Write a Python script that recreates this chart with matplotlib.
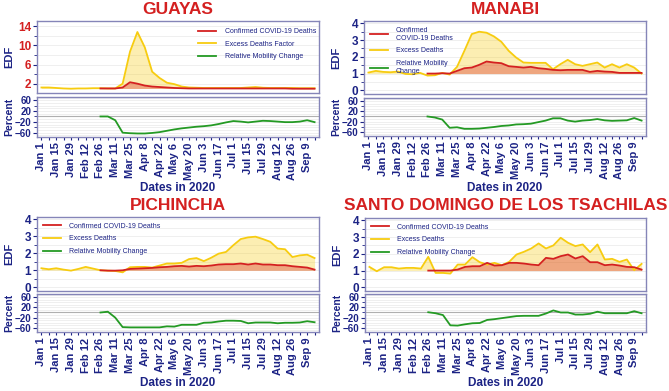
import numpy as np
import matplotlib
matplotlib.use("Agg")
import matplotlib.pyplot as plt
from matplotlib.ticker import MultipleLocator

plt.rcParams["font.family"] = ["Liberation Sans", "DejaVu Sans"]

# weekly points, Jan 1 .. Sep 16 2020
tick_labels = ["Jan 1", "Jan 15", "Jan 29", "Feb 12", "Feb 26", "Mar 11", "Mar 25",
               "Apr 8", "Apr 22", "May 6", "May 20", "Jun 3", "Jun 17", "Jul 1",
               "Jul 15", "Jul 29", "Aug 12", "Aug 26", "Sep 9"]
weeks = np.arange(38)
start = 8  # confirmed deaths and mobility begin Feb 26

guayas_excess = [1.2, 1.2, 1.1, 1.0, 0.95, 1.0, 1.0, 1.05, 1.05, 1.0, 1.0, 2.0, 8.7,
                 12.8, 9.6, 4.5, 3.2, 2.2, 1.9, 1.4, 1.2, 1.15, 1.1, 1.1, 1.1, 1.1,
                 1.1, 1.1, 1.2, 1.3, 1.15, 1.1, 1.1, 1.1, 1.1, 1.05, 1.05, 1.05]
guayas_confirmed = [1.0, 1.0, 1.0, 1.2, 2.3, 2.0, 1.6, 1.4, 1.3, 1.2, 1.1, 1.05, 1.0,
                    1.0, 1.0, 1.0, 1.0, 1.0, 1.0, 1.0, 1.0, 1.0, 1.0, 1.0, 1.0, 1.0,
                    0.95, 0.95, 0.95, 0.95]
guayas_mobility = [0, 0, -14, -60, -62, -63, -63, -61, -58, -53, -48, -44, -41, -38,
                   -36, -33, -28, -22, -17, -19, -22, -19, -16, -17, -19, -21, -21,
                   -19, -14, -21]

manabi_excess = [1.06, 1.16, 1.1, 1.08, 1.12, 0.98, 0.96, 1.04, 0.88, 0.9, 1.04, 0.94,
                 1.4, 2.36, 3.36, 3.5, 3.44, 3.22, 2.9, 2.36, 1.96, 1.66, 1.64, 1.64,
                 1.64, 1.26, 1.56, 1.82, 1.56, 1.46, 1.56, 1.66, 1.36, 1.56, 1.36,
                 1.56, 1.36, 1.0]
manabi_confirmed = [1.0, 1.0, 1.02, 1.0, 1.16, 1.32, 1.36, 1.52, 1.72, 1.66, 1.62, 1.44,
                    1.4, 1.36, 1.4, 1.32, 1.28, 1.22, 1.2, 1.22, 1.22, 1.22, 1.1, 1.16,
                    1.12, 1.1, 1.04, 1.04, 1.04, 1.04]
manabi_mobility = [0, -4, -12, -44, -42, -48, -48, -47, -44, -41, -37, -35, -31, -30,
                   -28, -22, -16, -7, -7, -16, -20, -16, -14, -10, -15, -17, -16, -15,
                   -6, -16]

pichincha_excess = [1.12, 1.06, 1.12, 1.04, 0.98, 1.08, 1.2, 1.1, 1.0, 0.98, 0.96, 0.88,
                    1.18, 1.2, 1.2, 1.16, 1.28, 1.4, 1.4, 1.44, 1.66, 1.72, 1.54, 1.74,
                    1.98, 2.08, 2.48, 2.84, 2.94, 2.98, 2.84, 2.68, 2.28, 2.24, 1.78,
                    1.88, 1.92, 1.72]
pichincha_confirmed = [1.0, 0.98, 0.98, 1.0, 1.08, 1.1, 1.12, 1.14, 1.18, 1.2, 1.24,
                       1.26, 1.22, 1.26, 1.24, 1.28, 1.34, 1.36, 1.36, 1.4, 1.34, 1.4,
                       1.34, 1.34, 1.3, 1.3, 1.24, 1.2, 1.16, 1.04]
pichincha_mobility = [0, 3, -20, -57, -58, -58, -58, -58, -58, -54, -55, -48, -48, -48,
                      -40, -39, -35, -32, -32, -33, -42, -39, -39, -39, -42, -40, -40,
                      -39, -34, -38]

sd_excess = [1.22, 0.96, 1.2, 1.2, 1.12, 1.16, 1.16, 1.12, 1.82, 0.86, 0.86, 0.82,
             1.36, 1.36, 1.8, 1.5, 1.36, 1.46, 1.32, 1.52, 1.96, 2.12, 2.32, 2.62,
             2.32, 2.5, 2.96, 2.66, 2.46, 2.56, 2.1, 2.56, 1.66, 1.7, 1.52, 1.66,
             1.02, 1.4]
sd_confirmed = [1.0, 1.0, 1.0, 1.0, 1.06, 1.22, 1.26, 1.26, 1.46, 1.3, 1.32, 1.46, 1.46,
                1.42, 1.36, 1.32, 1.76, 1.7, 1.86, 1.96, 1.72, 1.86, 1.5, 1.5, 1.32,
                1.36, 1.3, 1.22, 1.2, 1.06]
sd_mobility = [1, -3, -10, -50, -51, -46, -42, -41, -29, -26, -22, -18, -14, -13, -13,
               -13, -4, 8, 0, 0, -8, -8, -5, 3, -3, -3, -3, -3, 5, -3]

RED = "#d42020"
GOLD = "#f7cc10"
GREEN = "#249a24"
NAVY = "#1c2385"
EDGE = "#8585b8"

W, H = 669, 391
fig = plt.figure(figsize=(W / 100, H / 100), dpi=100)


def rect(l, t, r, b):
    return [l / W, 1 - b / H, (r - l) / W, (b - t) / H]


def style_box(ax):
    for s in ax.spines.values():
        s.set_color(EDGE)
        s.set_linewidth(1.0)
    ax.tick_params(colors=NAVY, length=3, width=0.8, pad=1.2)
    ax.tick_params(which="minor", colors=NAVY, length=2, width=0.6)
    for lab in ax.get_yticklabels():
        lab.set_fontweight("bold")


panels = [
    dict(title="GUAYAS", box=(37, 21, 319, 93), low=(37, 97, 319, 137),
         excess=guayas_excess, conf=guayas_confirmed, mob=guayas_mobility,
         ylim=(0.05, 15.1), minor=2, yticks=[2, 6, 10, 14], tickcol=RED,
         labels=["Confirmed COVID-19 Deaths", "Excess Deaths Factor",
                 "Relative Mobility Change"], loc="upper right",
         anchor=(0.99, 0.9), title_y=10, xlab_y=188),
    dict(title="MANABI", box=(364, 21, 646, 94), low=(364, 98, 646, 136),
         excess=manabi_excess, conf=manabi_confirmed, mob=manabi_mobility,
         ylim=(-0.22, 4.14), minor=0.5, yticks=[0, 1, 2, 3, 4], tickcol=NAVY,
         labels=["Confirmed\nCOVID-19 Deaths", "Excess Deaths",
                 "Relative Mobility\nChange"], loc="upper left",
         anchor=(0.02, 0.92), title_y=10, xlab_y=188),
    dict(title="PICHINCHA", box=(37, 217, 319, 291), low=(37, 294, 319, 332),
         excess=pichincha_excess, conf=pichincha_confirmed, mob=pichincha_mobility,
         ylim=(-0.22, 4.14), minor=0.5, yticks=[0, 1, 2, 3, 4], tickcol=NAVY,
         labels=["Confirmed COVID-19 Deaths", "Excess Deaths",
                 "Relative Mobility Change"], loc="upper left",
         anchor=(0.02, 0.92), title_y=206, xlab_y=383),
    dict(title="SANTO DOMINGO DE LOS TSACHILAS", box=(365, 218, 646, 291),
         low=(365, 294, 646, 332),
         excess=sd_excess, conf=sd_confirmed, mob=sd_mobility,
         ylim=(-0.22, 4.14), minor=0.5, yticks=[0, 1, 2, 3, 4], tickcol=NAVY,
         labels=["Confirmed COVID-19 Deaths", "Excess Deaths",
                 "Relative Mobility Change"], loc="upper left",
         anchor=(0.02, 0.92), title_y=206, xlab_y=383),
]

for p in panels:
    l, t, r, b = p["box"]
    ax = fig.add_axes(rect(*p["box"]))
    axm = fig.add_axes(rect(*p["low"]))
    xw = weeks[start:]

    ax.fill_between(weeks, p["excess"], 1, color=GOLD, alpha=0.32, lw=0)
    ax.fill_between(xw, p["conf"], 1, color=RED, alpha=0.35, lw=0)
    h_ex, = ax.plot(weeks, p["excess"], color=GOLD, lw=1.3)
    h_cf, = ax.plot(xw, p["conf"], color=RED, lw=1.3)
    h_mb, = axm.plot(xw, p["mob"], color=GREEN, lw=1.3)

    ax.set_xlim(-0.6, 37.6)
    axm.set_xlim(-0.6, 37.6)
    ax.set_ylim(*p["ylim"])
    axm.set_ylim(-76, 72)

    ax.set_yticks(p["yticks"])
    ax.yaxis.set_minor_locator(MultipleLocator(p["minor"]))
    ax.grid(axis="y", which="both", color="#ececec", lw=0.6)
    ax.set_axisbelow(True)
    ax.set_xticks(weeks)
    ax.tick_params(axis="x", which="both", bottom=False, labelbottom=False)

    axm.set_yticks([60, 20, -20, -60])
    axm.yaxis.set_minor_locator(MultipleLocator(20))
    for g in range(-70, 71, 10):
        axm.axhline(g, color="#ececec", lw=0.6, zorder=0)
    axm.axhline(0, color="#b0b0b0", lw=0.8, zorder=0)
    axm.set_xticks(weeks)
    axm.set_xticklabels([tick_labels[i // 2] if i % 2 == 0 else "" for i in weeks],
                        rotation=90, fontsize=8, fontweight="bold", color=NAVY)

    style_box(ax)
    style_box(axm)
    axm.tick_params(axis="x", length=2.5, pad=1.5)
    for lab in ax.get_yticklabels():
        lab.set_color(p["tickcol"])
        lab.set_fontsize(8.5)
    for lab in axm.get_yticklabels():
        lab.set_fontsize(7)

    ax.set_ylabel("EDF", fontsize=8, fontweight="bold", color=NAVY)
    axm.set_ylabel("Percent", fontsize=7.5, fontweight="bold", color=NAVY)
    ax.yaxis.set_label_coords(-23 / (r - l), 0.5)
    axm.yaxis.set_label_coords(-23 / (r - l), 0.5)

    ax.legend([h_cf, h_ex, h_mb], p["labels"], loc=p["loc"],
              bbox_to_anchor=p["anchor"], frameon=False, fontsize=5,
              labelcolor=NAVY, handlelength=2.6, handletextpad=1.2,
              labelspacing=0.8, borderpad=0, borderaxespad=0)

    cx = (l + r) / 2 / W
    fig.text(cx, 1 - p["title_y"] / H, p["title"], ha="center", va="center",
             fontsize=12.5, fontweight="bold", color=RED)
    fig.text(cx, 1 - p["xlab_y"] / H, "Dates in 2020", ha="center", va="center",
             fontsize=8.5, fontweight="bold", color=NAVY)

fig.savefig("out.png", dpi=100)
